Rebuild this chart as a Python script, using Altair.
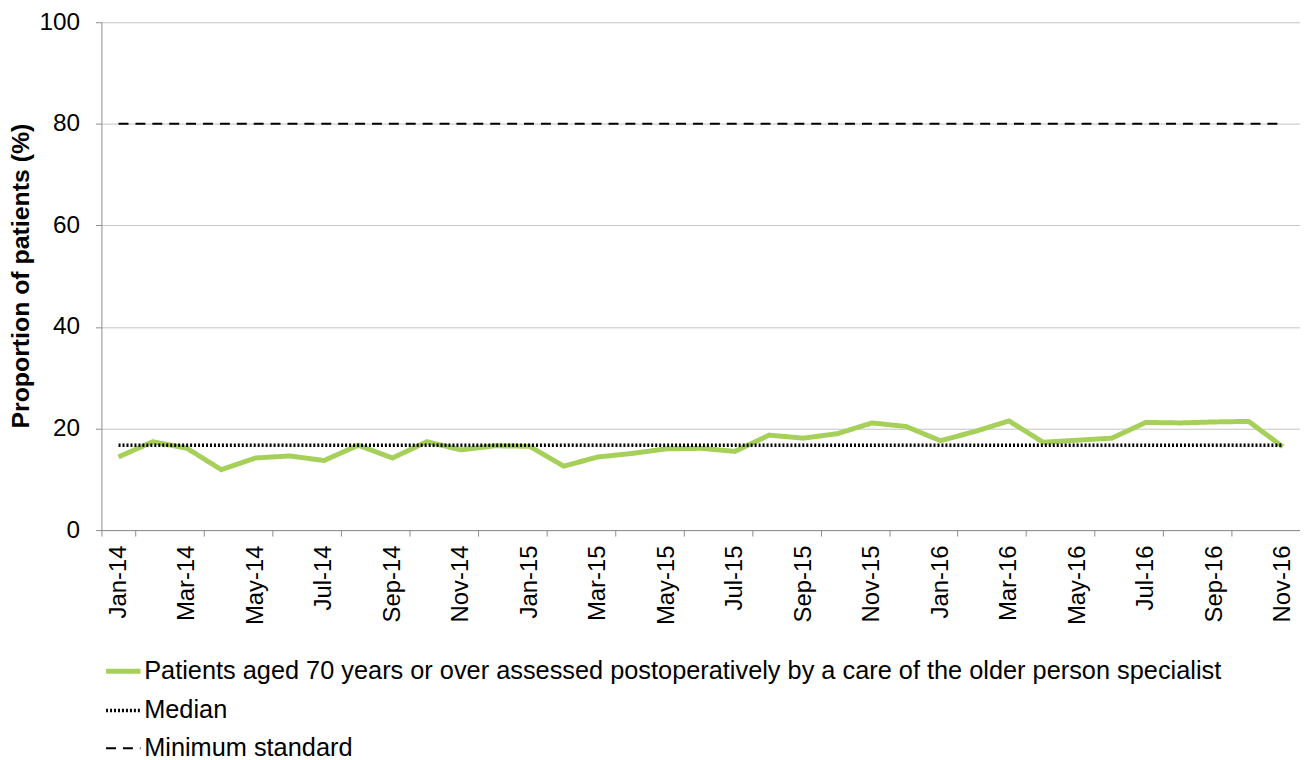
import altair as alt
import pandas as pd

month_names = ["Jan", "Feb", "Mar", "Apr", "May", "Jun", "Jul", "Aug", "Sep", "Oct", "Nov", "Dec"]
years = ["14", "15", "16"]
months = [f"{m}-{y}" for y in years for m in month_names][:35]  # Jan-14 .. Nov-16

patients = [14.4, 17.4, 16.1, 11.9, 14.2, 14.6, 13.7, 16.7, 14.2, 17.4, 15.8, 16.6,
            16.5, 12.6, 14.4, 15.1, 16.0, 16.1, 15.5, 18.7, 18.1, 19.0, 21.1, 20.4,
            17.6, 19.4, 21.5, 17.3, 17.7, 18.1, 21.2, 21.1, 21.3, 21.4, 16.4]
median_value = 16.7
minimum_standard = 80

series_names = [
    "Patients aged 70 years or over assessed postoperatively by a care of the older person specialist",
    "Median",
    "Minimum standard",
]
y_ticks = [0, 20, 40, 60, 80, 100]

rows = []
for m, v in zip(months, patients):
    rows.append({"month": m, "value": v, "series": series_names[0]})
for m in months:
    rows.append({"month": m, "value": minimum_standard, "series": series_names[2]})
for m in months:
    rows.append({"month": m, "value": median_value, "series": series_names[1]})
df = pd.DataFrame(rows)

FONT = "Liberation Sans"
legend = alt.Legend(
    title=None, orient="none", legendX=2, legendY=633, direction="vertical",
    symbolType="stroke", symbolSize=1200, labelFontSize=25.5, labelFont=FONT,
    labelColor="black", rowPadding=6, labelOffset=1, padding=0, labelLimit=2000,
)

chart = alt.Chart(df).mark_line(strokeCap="butt").encode(
    x=alt.X("month:O", sort=months,
            scale=alt.Scale(type="band", domain=months, paddingInner=0, paddingOuter=0),
            bandPosition=0.5,
            axis=alt.Axis(values=months[::2], tickBand="extent", labelAngle=-90,
                          labelFontSize=24, labelFont=FONT, labelColor="black",
                          tickSize=6, labelPadding=9, tickColor="#8c8c8c",
                          domainColor="#8c8c8c", grid=False, title=None)),
    y=alt.Y("value:Q", scale=alt.Scale(domain=[0, 100], nice=False),
            axis=alt.Axis(values=y_ticks, title="Proportion of patients (%)",
                          titleFont=FONT, titleFontSize=25, titleFontWeight="bold",
                          titleColor="black", titleX=-81, titleY=255,
                          titleAlign="center", titleBaseline="middle",
                          labelFontSize=24.5, labelFont=FONT, labelColor="black",
                          labelPadding=16, tickSize=6, tickColor="#8c8c8c",
                          domainColor="#8c8c8c", grid=True, gridColor="#c4c4c4")),
    color=alt.Color("series:N", scale=alt.Scale(domain=series_names, range=["#a6d05a", "black", "black"]),
                    legend=legend),
    strokeDash=alt.StrokeDash("series:N", scale=alt.Scale(domain=series_names, range=[[1, 0], [2, 2], [10, 7]]),
                              legend=legend),
    strokeWidth=alt.StrokeWidth("series:N", scale=alt.Scale(domain=series_names, range=[5, 2, 2.5]),
                                legend=legend),
).properties(
    width=1206, height=511,
    autosize=alt.AutoSizeParams(type="none"),
    padding={"left": 94, "top": 12, "right": 0, "bottom": 229},
).configure_view(stroke=None)

chart.save("out.html", embed_options={"renderer": "svg", "actions": False})
